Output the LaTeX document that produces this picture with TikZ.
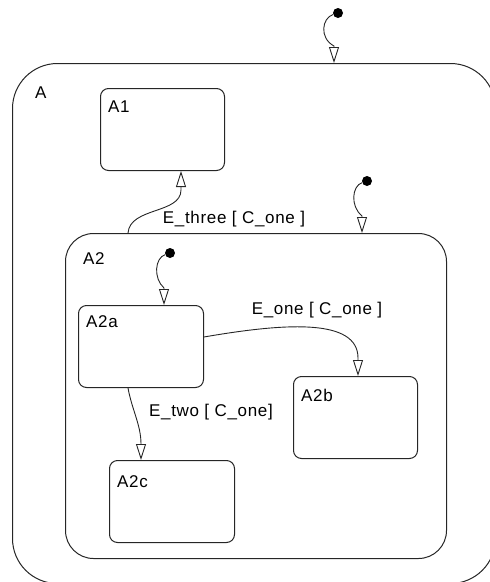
\documentclass[tikz,border=0pt]{standalone}
\usepackage{fontspec}
\setmainfont{Liberation Sans}[LetterSpace=4]
\usetikzlibrary{arrows.meta,calc}

\tikzset{
  state/.style={draw=black!85, line width=1pt, anchor=north west, inner sep=0pt},
  statename/.style={anchor=north west, inner sep=0pt, font=\fontsize{17}{20}\selectfont},
  translabel/.style={inner sep=0pt, font=\fontsize{17}{20}\selectfont},
  initdot/.style={circle, fill=black, inner sep=0pt, minimum size=10pt},
  trans/.style={draw=black!85, line width=0.9pt, -{Triangle[open, length=16pt, width=10pt]}}
}

\begin{document}
\begin{tikzpicture}[x=1pt, y=-1pt]
    \useasboundingbox (0,0) rectangle (490,582);
    \clip (0,0) rectangle (490,582);

    % Superstate A (runs past the right and bottom edges)
    \node[state, rounded corners=45pt, minimum width=483pt, minimum height=520pt] (A) at (12,63) {};
    \node[statename] (Aname) at (35,87) {A};

    % Substates of A
    \node[state, rounded corners=8pt, minimum width=124pt, minimum height=82pt] (A1) at (100,88) {};
    \node[statename] (A1name) at (108,101) {A1};

    \node[state, rounded corners=28pt, minimum width=381pt, minimum height=325pt] (A2) at (65,233) {};
    \node[statename] (A2name) at (83,252) {A2};

    % Substates of A2
    \node[state, rounded corners=8pt, minimum width=125pt, minimum height=82pt] (A2a) at (78,305) {};
    \node[statename] (A2aname) at (86,315) {A2a};

    \node[state, rounded corners=8pt, minimum width=124pt, minimum height=82pt] (A2b) at (293,376) {};
    \node[statename] (A2bname) at (301,389) {A2b};

    \node[state, rounded corners=8pt, minimum width=125pt, minimum height=82pt] (A2c) at (109,460) {};
    \node[statename] (A2cname) at (117,475) {A2c};

    % Default transitions
    \node[initdot] (initA) at (338,13) {};
    \draw[trans] (initA) .. controls (322,18) and (319,38) .. (334,46)
        -- ($(A.north west)+(322,0)$);

    \node[initdot] (initA2) at (367,181) {};
    \draw[trans] (initA2) .. controls (352,186) and (350,206) .. (362,216)
        -- ($(A2.north west)+(297,0)$);

    \node[initdot] (initA2a) at (170,253) {};
    \draw[trans] (initA2a) .. controls (155,258) and (153,278) .. (164,288)
        -- ($(A2a.north west)+(86,0)$);

    % Transitions with events and conditions
    \draw[trans] ($(A2.north west)+(63,0)$) .. controls (130,207) and (181,214) .. (181,190)
        -- ($(A1.south west)+(81,0)$);
    \node[translabel] (Ethree) at (234,219) {E\_three [ C\_one ]};

    \draw[trans] ($(A2a.north east)+(0,32)$) .. controls (285,323) and (358,318) .. (358,358)
        -- ($(A2b.north west)+(65,0)$);
    \node[translabel] (Eone) at (317,310) {E\_one [ C\_one ]};

    \draw[trans] ($(A2a.south west)+(50,0)$) .. controls (132,410) and (141,425) .. (141,444)
        -- ($(A2c.north west)+(32,0)$);
    \node[translabel] (Etwo) at (211,412) {E\_two [ C\_one]};
\end{tikzpicture}
\end{document}
